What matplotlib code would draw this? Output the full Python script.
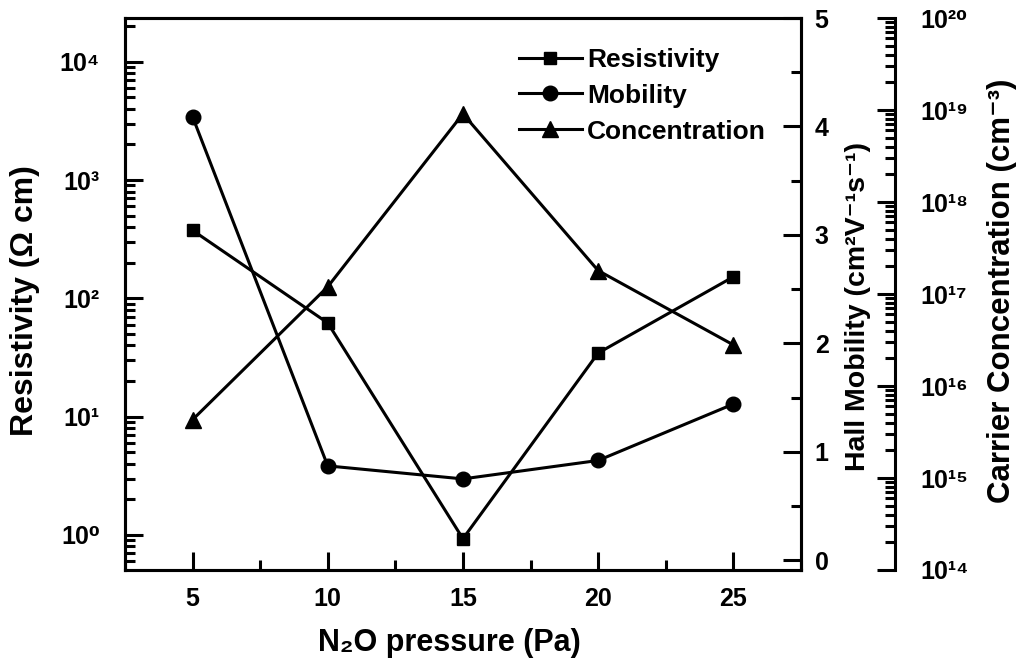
import numpy as np
import matplotlib
matplotlib.use('Agg')
from matplotlib import pyplot as plt
from matplotlib.ticker import LogLocator, MultipleLocator, NullFormatter, FuncFormatter

plt.rcParams['font.family'] = ['Liberation Sans', 'DejaVu Sans']
plt.rcParams['font.weight'] = 'bold'

# N2O pressure series
pressure = [5, 10, 15, 20, 25]
resistivity = [376, 62, 0.93, 34.5, 152]          # Ohm cm
mobility = [4.09, 0.87, 0.75, 0.92, 1.44]          # cm2/Vs
concentration = [4.3e15, 1.2e17, 9.1e18, 1.8e17, 2.8e16]  # cm-3

lw = 2.2
tick_fs = 18
sup = str.maketrans('0123456789-', '⁰¹²³⁴⁵⁶⁷⁸⁹⁻')

def pow10(v, pos):
    return '10' + str(int(round(np.log10(v)))).translate(sup)

fig = plt.figure(figsize=(10.2, 6.69), dpi=100)
ax = fig.add_axes([0.1225, 0.148, 0.6627, 0.825])
ax2 = ax.twinx()
ax3 = ax.twinx()

l1, = ax.plot(pressure, resistivity, 'k-', marker='s', ms=9, lw=lw, label='Resistivity')
l2, = ax2.plot(pressure, mobility, 'k-', marker='o', ms=10.5, lw=lw, label='Mobility')
l3, = ax3.plot(pressure, concentration, 'k-', marker='^', ms=11, lw=lw, label='Concentration')

# left axis: resistivity
ax.set_xlim(2.5, 27.5)
ax.set_yscale('log')
ax.set_ylim(0.506, 2.34e4)
ax.yaxis.set_major_locator(LogLocator(base=10, numticks=10))
ax.yaxis.set_minor_locator(LogLocator(base=10, subs=np.arange(2, 10), numticks=10))
ax.yaxis.set_major_formatter(FuncFormatter(pow10))
ax.yaxis.set_minor_formatter(NullFormatter())
ax.xaxis.set_major_locator(MultipleLocator(5))
ax.xaxis.set_minor_locator(MultipleLocator(2.5))
ax.tick_params(axis='both', which='major', direction='in', length=13, width=lw, labelsize=tick_fs)
ax.tick_params(axis='both', which='minor', direction='in', length=7, width=lw)
ax.tick_params(axis='y', which='major', pad=18)
ax.tick_params(axis='x', which='major', pad=12)
for s in ax.spines.values():
    s.set_linewidth(lw)

# right axis: mobility
ax2.set_ylim(-0.09, 5)
ax2.yaxis.set_major_locator(MultipleLocator(1))
ax2.yaxis.set_minor_locator(MultipleLocator(0.5))
ax2.tick_params(axis='y', which='major', direction='in', length=13, width=lw, labelsize=tick_fs, pad=10)
ax2.tick_params(axis='y', which='minor', direction='in', length=7, width=lw)
for s in ax2.spines.values():
    s.set_linewidth(lw)

# outer axis: carrier concentration
ax3.set_yscale('log')
ax3.set_ylim(1e14, 1e20)
ax3.spines['right'].set_position(('outward', 68))
for k in ['left', 'top', 'bottom']:
    ax3.spines[k].set_visible(False)
ax3.spines['right'].set_linewidth(lw)
ax3.yaxis.set_major_locator(LogLocator(base=10, numticks=10))
ax3.yaxis.set_minor_locator(LogLocator(base=10, subs=np.arange(2, 10), numticks=10))
ax3.yaxis.set_major_formatter(FuncFormatter(pow10))
ax3.yaxis.set_minor_formatter(NullFormatter())
ax3.tick_params(axis='y', which='major', direction='in', length=13, width=lw, labelsize=tick_fs, pad=18)
ax3.tick_params(axis='y', which='minor', direction='in', length=7, width=lw)

ax.set_xlabel('N₂O pressure (Pa)', fontsize=22, fontweight='bold')
ax.set_ylabel('Resistivity (Ω cm)', fontsize=23, fontweight='bold')
ax2.set_ylabel('Hall Mobility (cm²V⁻¹s⁻¹)', fontsize=20.5, fontweight='bold')
ax3.set_ylabel('Carrier Concentration (cm⁻³)', fontsize=22.5, fontweight='bold')
ax.xaxis.set_label_coords(0.48, -0.105)
ax.yaxis.set_label_coords(-0.125, 0.489)
ax2.yaxis.set_label_coords(1.065, 0.478)
ax3.yaxis.set_label_coords(1.275, 0.505)

ax.legend(handles=[l1, l2, l3], loc='upper left', bbox_to_anchor=(0.563, 0.97),
          frameon=False, fontsize=19, handlelength=2.4, handletextpad=0.2,
          labelspacing=0.45, borderpad=0)

plt.savefig('out.png', dpi=100)
